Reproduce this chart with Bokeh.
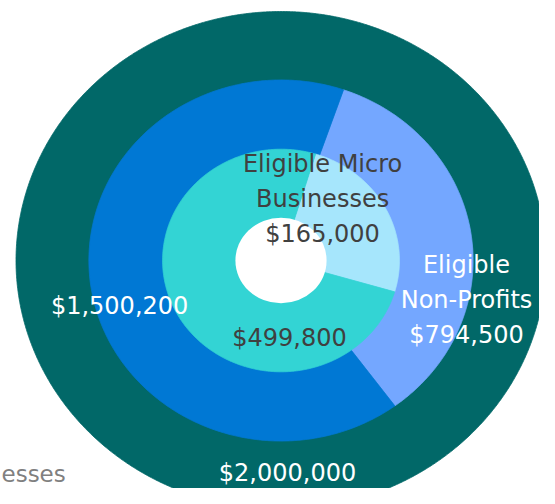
import numpy as np
from bokeh.plotting import figure
from bokeh.models import ColumnDataSource, Range1d
from bokeh.core.properties import value
from bokeh.embed import file_html
from bokeh.resources import INLINE

# ---------------- data ----------------
outer_names = ["Total"]
outer_values = [2000000]
middle_names = ["Eligible Non-Profits", "Other"]
middle_values = [794500, 1500200]
inner_names = ["Eligible Micro Businesses", "Other"]
inner_values = [165000, 499800]
cut_label = "esses"

# ---------------- layout / style ----------------
R_OUTER, R_MID, R_INNER, R_HOLE = 1.0, 0.725, 0.447, 0.172
START_OUTER, START_MID, START_INNER = 0.0, 19.0, 17.0
outer_colors = ["#016868"]
middle_colors = ["#74A7FF", "#0078D4"]
inner_colors = ["#A6E6FC", "#33D4D4"]

W, H = 539, 488
PX_X, PX_Y = 265.0, 249.0
CX, CY = 280.5, 260.0


def sectors(values, start_deg, radius):
    total = float(sum(values))
    xs, ys = [], []
    a = start_deg
    for v in values:
        span = 360.0 * v / total
        t = np.radians(np.linspace(a, a + span, max(8, int(span * 3))))
        px = radius * np.sin(t)
        py = radius * np.cos(t)
        if span < 359.99:
            xs.append([0.0] + list(px) + [0.0])
            ys.append([0.0] + list(py) + [0.0])
        else:
            xs.append(list(px))
            ys.append(list(py))
        a += span
    return xs, ys


p = figure(width=W, height=H, output_backend="svg", toolbar_location=None,
           x_range=Range1d(-CX / PX_X, (W - CX) / PX_X),
           y_range=Range1d((CY - H) / PX_Y, CY / PX_Y),
           min_border=0)
p.axis.visible = False
p.grid.visible = False
p.outline_line_color = None
p.background_fill_color = "white"
p.border_fill_color = "white"

for vals, start, r, cols in [(outer_values, START_OUTER, R_OUTER, outer_colors),
                             (middle_values, START_MID, R_MID, middle_colors),
                             (inner_values, START_INNER, R_INNER, inner_colors)]:
    xs, ys = sectors(vals, start, r)
    src = ColumnDataSource(dict(xs=xs, ys=ys, c=cols))
    p.patches("xs", "ys", source=src, fill_color="c", line_color="c", line_width=0.8)

p.ellipse(x=[0], y=[0], width=[2 * R_HOLE], height=[2 * R_HOLE],
          fill_color="white", line_color=None)


def money(v):
    return "${:,}".format(v)

label_text = [
    "Eligible Micro\nBusinesses\n" + money(inner_values[0]),
    "Eligible\nNon-Profits\n" + money(middle_values[0]),
    money(middle_values[1]),
    money(inner_values[1]),
    money(outer_values[0]),
]
label_x = [0.157, 0.700, -0.609, 0.032, 0.0245]
label_y = [0.245, -0.157, -0.181, -0.313, -0.855]
label_color = ["#404040", "#FFFFFF", "#FFFFFF", "#404040", "#FFFFFF"]

lsrc = ColumnDataSource(dict(x=label_x, y=label_y, t=label_text, c=label_color))
p.text(x="x", y="y", text="t", source=lsrc, text_color="c",
       text_font=value("DejaVu Sans"), text_font_size="24px",
       text_align="center", text_baseline="middle", text_line_height=1.25)

p.text(x=[(1 - CX) / PX_X], y=[(CY - 486) / PX_Y], text=[cut_label], text_color="#808080",
       text_font=value("DejaVu Sans"), text_font_size="23px",
       text_align="left", text_baseline="bottom")

open("out.html", "w").write(file_html(p, INLINE))
